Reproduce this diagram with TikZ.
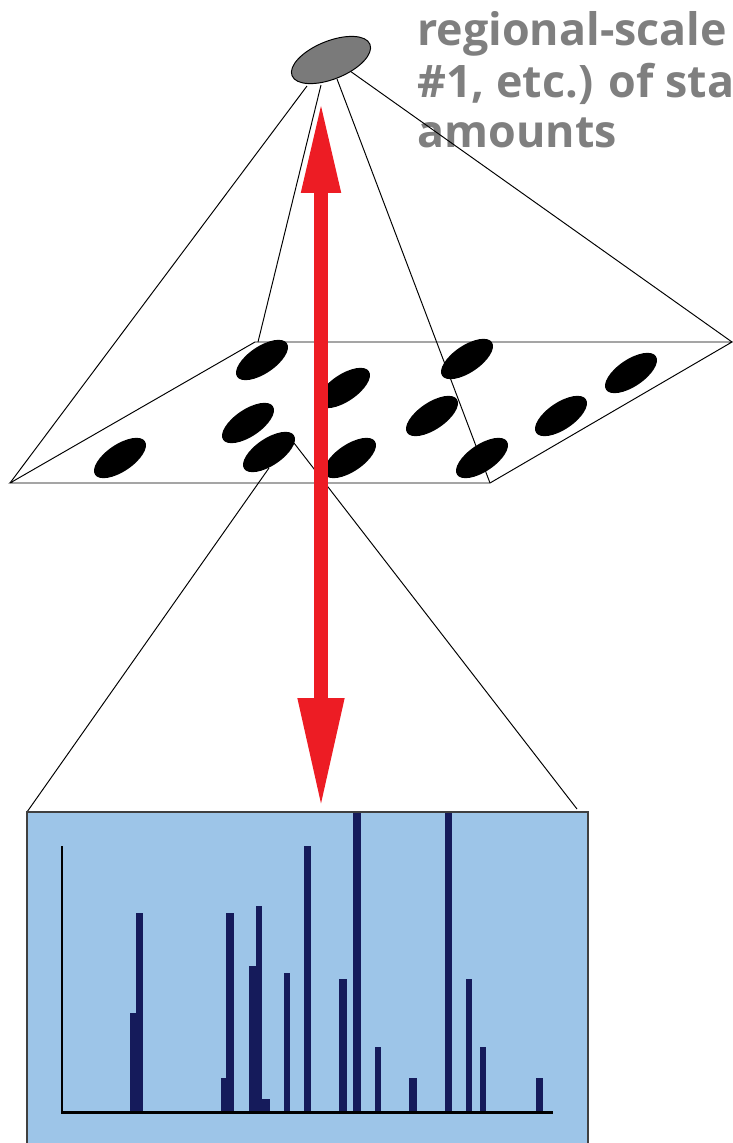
\documentclass[tikz,border=0pt]{standalone}
\usepackage{fontspec}
\setmainfont{Open Sans}
\usetikzlibrary{arrows.meta}
\definecolor{arrowred}{HTML}{ED1C24}
\definecolor{chartblue}{HTML}{9DC5E8}
\definecolor{barnavy}{HTML}{151B5B}
\definecolor{capgray}{HTML}{7F7F7F}
\definecolor{dishgray}{HTML}{7A7A7A}
\tikzset{
	thinline/.style={line width=0.55pt},
	captext/.style={text=capgray, font=\fontsize{25.5}{30}\selectfont\bfseries, inner sep=0pt, anchor=base west},
	bigarrow/.style={arrowred, line width=0.28cm,
		{Triangle[length=1.86cm,width=0.72cm]}-{Triangle[length=2.2cm,width=0.86cm]}},
}

\begin{document}
\begin{tikzpicture}[x=0.02cm,y=-0.02cm]
	\useasboundingbox (0,0) rectangle (733,1143);
	\newcommand\axisy{1112}
	% caption
	\node[captext] (cap1) at (417,45) {regional-scale};
	\node[captext] (cap2) at (417,97) {\#1, etc.) of sta};
	\node[captext] (cap3) at (417,147) {amounts};
	% plate corners
	\coordinate (pl) at (10,483);
	\coordinate (pb) at (255,342);
	\coordinate (pr) at (732,342);
	\coordinate (pf) at (490,483);
	% pyramid from the dish
	\coordinate (d1) at (307,86);
	\coordinate (d2) at (321,85);
	\coordinate (d3) at (337,79);
	\coordinate (d4) at (350,71);
	\draw[thinline] (d1) -- (pl);
	\draw[thinline] (d2) -- (258,342);
	\draw[thinline] (d3) -- (pf);
	\draw[thinline] (d4) -- (pr);
	\draw[thinline] (pl) -- (pb) -- (pr) -- (pf) -- cycle;
	\filldraw[fill=dishgray, draw=black, thinline, rotate around={22:(331,60)}] (331,60) coordinate (dish) ellipse [x radius=42, y radius=19];
	% zoom lines to the chart
	\coordinate (s1) at (269,468);
	\coordinate (s2) at (294,443);
	\coordinate (c1) at (27,812);
	\coordinate (c2) at (577,809);
	\draw[thinline] (s1) -- (c1);
	\draw[thinline] (s2) -- (c2);
	% stations
	\foreach \cx/\cy in {262/360, 344/388, 467/359, 631/373, 248/423, 432/416, 561/416, 120/458, 269/452, 350/458, 482/458} {
		\fill[rotate around={34:(\cx,\cy)}] (\cx,\cy) ellipse [x radius=30, y radius=13.5];
	}
	% chart
	\filldraw[fill=chartblue, draw=black!75, line width=0.9pt] (27,812) rectangle (588,1150);
	\foreach \xa/\xb/\ytop in {129.5/137/1013, 136/143.2/913, 220.6/227.3/1078, 226.2/233.9/913,
		248.7/256.8/966, 256/262.3/906, 262.3/270.4/1099, 284/290/973, 304/311.4/846,
		339.4/347.2/979, 353.4/361.2/813, 375.2/381.1/1047, 409.1/416.5/1078,
		445/452.3/813, 466.3/472.2/979, 480/486/1047, 536/543.4/1078} {
		\fill[barnavy] (\xa,\axisy) rectangle (\xb,\ytop);
	}
	\draw[line width=1.7pt] (62,846) -- (62,\axisy) -- (553,\axisy);
	% double arrow
	\coordinate (atop) at (321,100);
	\coordinate (abot) at (321,808);
	\draw[bigarrow] (atop) -- (abot);
\end{tikzpicture}
\end{document}
